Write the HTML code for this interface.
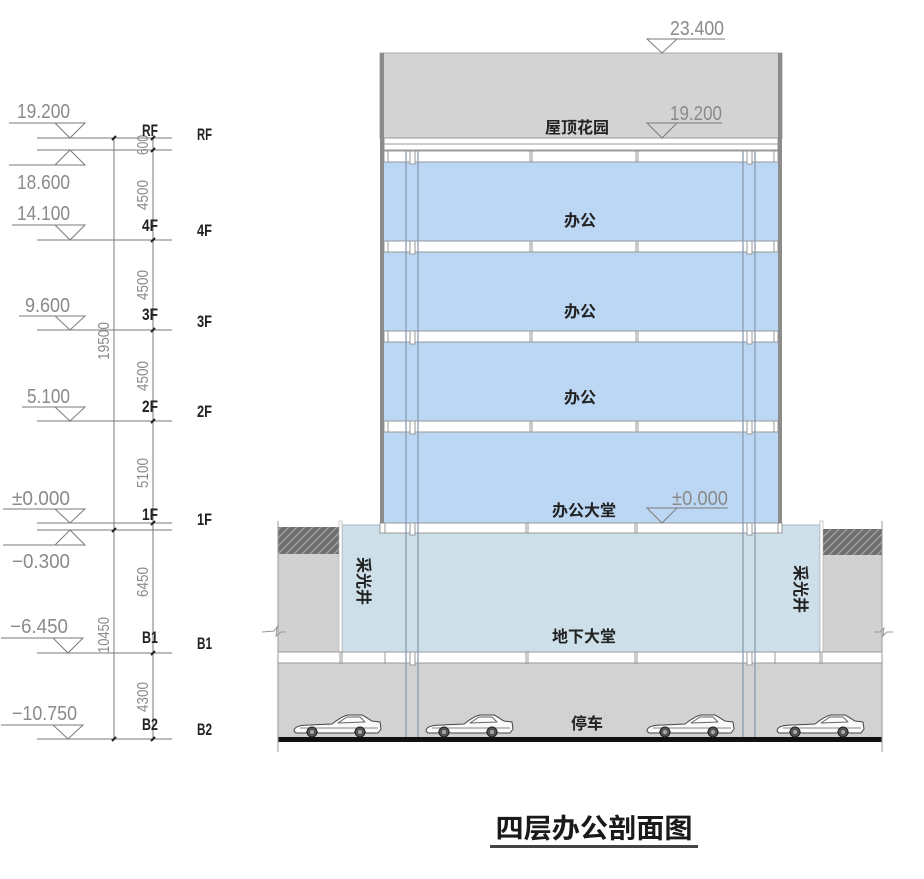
<!DOCTYPE html>
<html><head><meta charset="utf-8"><style>
html,body{margin:0;padding:0;background:#fff;}
svg{display:block;}
.el{font-family:"Liberation Sans",sans-serif;font-size:20px;fill:#8a8a8a;}
.dm{font-family:"Liberation Sans",sans-serif;font-size:16px;fill:#8a8a8a;}
.st{font-family:"Liberation Sans",sans-serif;font-size:17px;font-weight:bold;fill:#222;}
.cn{font-family:"Liberation Sans","Noto Sans CJK SC",sans-serif;font-size:16px;font-weight:bold;fill:#222;}
</style></head><body>
<svg width="924" height="879" viewBox="0 0 924 879" xmlns="http://www.w3.org/2000/svg">
<defs>
<pattern id="hatch" width="8" height="8" patternUnits="userSpaceOnUse">
<rect width="8" height="8" fill="#6f6f6f"/>
<path d="M0,8 L8,0 M-2,2 L2,-2 M6,10 L10,6" stroke="#a8a8a8" stroke-width="1.2"/>
</pattern>
</defs>

<!-- ============ LEFT ELEVATION CHART ============ -->
<g stroke="#7a7a7a" stroke-width="1" fill="none">
  <!-- floor lines -->
  <line x1="37" y1="138" x2="172" y2="138"/>
  <line x1="37" y1="150" x2="172" y2="150"/>
  <line x1="37" y1="240" x2="172" y2="240"/>
  <line x1="37" y1="330" x2="172" y2="330"/>
  <line x1="37" y1="421" x2="172" y2="421"/>
  <line x1="37" y1="523" x2="172" y2="523"/>
  <line x1="37" y1="530" x2="172" y2="530"/>
  <line x1="37" y1="653" x2="172" y2="653"/>
  <line x1="37" y1="739" x2="172" y2="739"/>
  <!-- dim lines -->
  <line x1="114" y1="138" x2="114" y2="739"/>
  <line x1="153" y1="138" x2="153" y2="739"/>
  <!-- marker lines -->
  <line x1="9" y1="123" x2="85" y2="123"/>
  <line x1="9" y1="165" x2="85" y2="165"/>
  <line x1="12" y1="225" x2="85" y2="225"/>
  <line x1="19" y1="316" x2="85" y2="316"/>
  <line x1="22" y1="407" x2="85" y2="407"/>
  <line x1="3" y1="509" x2="85" y2="509"/>
  <line x1="3" y1="545" x2="85" y2="545"/>
  <line x1="1" y1="638" x2="83" y2="638"/>
  <line x1="1" y1="725" x2="83" y2="725"/>
  <!-- triangles -->
  <path d="M55,123 L85,123 L70,138 Z"/>
  <path d="M70,150 L55,165 L85,165 Z"/>
  <path d="M55,225 L85,225 L70,240 Z"/>
  <path d="M55,316 L85,316 L70,330 Z"/>
  <path d="M55,407 L85,407 L70,421 Z"/>
  <path d="M55,509 L85,509 L70,523 Z"/>
  <path d="M70,530 L55,545 L85,545 Z"/>
  <path d="M53,638 L83,638 L68,653 Z"/>
  <path d="M53,725 L83,725 L68,739 Z"/>
</g>
<!-- ticks -->
<g stroke="#222" stroke-width="2">
  <line x1="112" y1="140" x2="116" y2="136"/>
  <line x1="151" y1="140" x2="155" y2="136"/>
  <line x1="151" y1="152" x2="155" y2="148"/>
  <line x1="151" y1="242" x2="155" y2="238"/>
  <line x1="151" y1="332" x2="155" y2="328"/>
  <line x1="151" y1="423" x2="155" y2="419"/>
  <line x1="151" y1="525" x2="155" y2="521"/>
  <line x1="112" y1="532" x2="116" y2="528"/>
  <line x1="151" y1="655" x2="155" y2="651"/>
  <line x1="112" y1="741" x2="116" y2="737"/>
  <line x1="151" y1="741" x2="155" y2="737"/>
</g>
<!-- elevation texts -->
<text class="el" x="17" y="118" textLength="53" lengthAdjust="spacingAndGlyphs">19.200</text>
<text class="el" x="17" y="189" textLength="53" lengthAdjust="spacingAndGlyphs">18.600</text>
<text class="el" x="17" y="220" textLength="53" lengthAdjust="spacingAndGlyphs">14.100</text>
<text class="el" x="25" y="312" textLength="45" lengthAdjust="spacingAndGlyphs">9.600</text>
<text class="el" x="27" y="403" textLength="43" lengthAdjust="spacingAndGlyphs">5.100</text>
<text class="el" x="12" y="505" textLength="58" lengthAdjust="spacingAndGlyphs">±0.000</text>
<text class="el" x="12" y="568" textLength="58" lengthAdjust="spacingAndGlyphs">−0.300</text>
<text class="el" x="10" y="633" textLength="58" lengthAdjust="spacingAndGlyphs">−6.450</text>
<text class="el" x="12" y="720" textLength="65" lengthAdjust="spacingAndGlyphs">−10.750</text>
<!-- dim texts -->
<text class="dm" transform="translate(148,145) rotate(-90)" text-anchor="middle" textLength="20" lengthAdjust="spacingAndGlyphs">600</text>
<text class="dm" transform="translate(148,195) rotate(-90)" text-anchor="middle" textLength="30" lengthAdjust="spacingAndGlyphs">4500</text>
<text class="dm" transform="translate(148,285) rotate(-90)" text-anchor="middle" textLength="30" lengthAdjust="spacingAndGlyphs">4500</text>
<text class="dm" transform="translate(148,376) rotate(-90)" text-anchor="middle" textLength="30" lengthAdjust="spacingAndGlyphs">4500</text>
<text class="dm" transform="translate(148,473) rotate(-90)" text-anchor="middle" textLength="30" lengthAdjust="spacingAndGlyphs">5100</text>
<text class="dm" transform="translate(148,582) rotate(-90)" text-anchor="middle" textLength="30" lengthAdjust="spacingAndGlyphs">6450</text>
<text class="dm" transform="translate(148,697) rotate(-90)" text-anchor="middle" textLength="30" lengthAdjust="spacingAndGlyphs">4300</text>
<text class="dm" transform="translate(109,341) rotate(-90)" text-anchor="middle" textLength="38" lengthAdjust="spacingAndGlyphs">19500</text>
<text class="dm" transform="translate(109,635) rotate(-90)" text-anchor="middle" textLength="36" lengthAdjust="spacingAndGlyphs">10450</text>
<!-- story labels -->
<g class="st">
<text x="142" y="136" textLength="16" lengthAdjust="spacingAndGlyphs">RF</text>
<text x="142" y="231" textLength="16" lengthAdjust="spacingAndGlyphs">4F</text>
<text x="142" y="320" textLength="16" lengthAdjust="spacingAndGlyphs">3F</text>
<text x="142" y="412" textLength="16" lengthAdjust="spacingAndGlyphs">2F</text>
<text x="142" y="520" textLength="16" lengthAdjust="spacingAndGlyphs">1F</text>
<text x="142" y="643" textLength="16" lengthAdjust="spacingAndGlyphs">B1</text>
<text x="142" y="730" textLength="16" lengthAdjust="spacingAndGlyphs">B2</text>
<text x="197" y="140" textLength="15" lengthAdjust="spacingAndGlyphs">RF</text>
<text x="197" y="236" textLength="15" lengthAdjust="spacingAndGlyphs">4F</text>
<text x="197" y="327" textLength="15" lengthAdjust="spacingAndGlyphs">3F</text>
<text x="197" y="417" textLength="15" lengthAdjust="spacingAndGlyphs">2F</text>
<text x="197" y="525" textLength="15" lengthAdjust="spacingAndGlyphs">1F</text>
<text x="197" y="649" textLength="15" lengthAdjust="spacingAndGlyphs">B1</text>
<text x="197" y="735" textLength="15" lengthAdjust="spacingAndGlyphs">B2</text>
</g>

<!-- ============ BUILDING ============ -->
<!-- basement earth & hatch -->
<rect x="278" y="527" width="62" height="126" fill="#d1d1d1"/>
<rect x="278" y="527" width="62" height="27" fill="url(#hatch)"/>
<rect x="822" y="529" width="60" height="124" fill="#d1d1d1"/>
<rect x="822" y="529" width="60" height="26" fill="url(#hatch)"/>
<!-- basement lobby -->
<rect x="342" y="525" width="478" height="128" fill="#cde0e9" stroke="#a9b6bd" stroke-width="1"/>
<!-- lightwell walls -->
<rect x="339" y="521" width="3" height="132" fill="#fff" stroke="#aaa" stroke-width="0.6"/>
<rect x="820" y="521" width="3" height="132" fill="#fff" stroke="#aaa" stroke-width="0.6"/>
<!-- parking -->
<rect x="278" y="663" width="604" height="74" fill="#d2d2d2"/>
<!-- B1 slab band -->
<rect x="278" y="652" width="604" height="11" fill="#fff" stroke="#999" stroke-width="1"/>
<g stroke="#999" stroke-width="1">
  <line x1="340" y1="652" x2="340" y2="664"/><line x1="342" y1="652" x2="342" y2="664"/>
  <line x1="385" y1="652" x2="385" y2="664"/>
  <line x1="526" y1="652" x2="526" y2="664"/><line x1="528" y1="652" x2="528" y2="664"/>
  <line x1="635" y1="652" x2="635" y2="664"/><line x1="637" y1="652" x2="637" y2="664"/>
  <line x1="775" y1="652" x2="775" y2="664"/>
  <line x1="820" y1="652" x2="820" y2="664"/><line x1="822" y1="652" x2="822" y2="664"/>
</g>
<rect x="410" y="652" width="5" height="13" fill="#fff" stroke="#999" stroke-width="1"/>
<rect x="747" y="652" width="5" height="13" fill="#fff" stroke="#999" stroke-width="1"/>

<!-- roof parapet -->
<rect x="380" y="53" width="402" height="85" fill="#d3d3d3" stroke="#aaa" stroke-width="1"/>
<!-- roof slab -->
<rect x="384" y="138" width="394" height="12" fill="#fff" stroke="#999" stroke-width="1"/>
<line x1="384" y1="144" x2="778" y2="144" stroke="#999" stroke-width="1"/>

<!-- blue office floors -->
<rect x="384" y="162" width="394" height="79" fill="#bcd7f4"/>
<rect x="384" y="252" width="394" height="79" fill="#bcd7f4"/>
<rect x="384" y="342" width="394" height="79" fill="#bcd7f4"/>
<rect x="384" y="432" width="394" height="91" fill="#bcd7f4"/>

<!-- beam bands -->
<g id="bands">
<g transform="translate(0,151)">
 <rect x="384" y="0" width="394" height="11" fill="#fff" stroke="#999"/>
 <g stroke="#999"><line x1="388" y1="0" x2="388" y2="11"/><line x1="530" y1="0" x2="530" y2="11"/><line x1="532" y1="0" x2="532" y2="11"/><line x1="636" y1="0" x2="636" y2="11"/><line x1="638" y1="0" x2="638" y2="11"/><line x1="774" y1="0" x2="774" y2="11"/></g>
 <rect x="410" y="0" width="5" height="13" fill="#fff" stroke="#999"/><rect x="747" y="0" width="5" height="13" fill="#fff" stroke="#999"/>
</g>
<g transform="translate(0,241)">
 <rect x="384" y="0" width="394" height="11" fill="#fff" stroke="#999"/>
 <g stroke="#999"><line x1="388" y1="0" x2="388" y2="11"/><line x1="530" y1="0" x2="530" y2="11"/><line x1="532" y1="0" x2="532" y2="11"/><line x1="636" y1="0" x2="636" y2="11"/><line x1="638" y1="0" x2="638" y2="11"/><line x1="774" y1="0" x2="774" y2="11"/></g>
 <rect x="410" y="0" width="5" height="13" fill="#fff" stroke="#999"/><rect x="747" y="0" width="5" height="13" fill="#fff" stroke="#999"/>
</g>
<g transform="translate(0,331)">
 <rect x="384" y="0" width="394" height="11" fill="#fff" stroke="#999"/>
 <g stroke="#999"><line x1="388" y1="0" x2="388" y2="11"/><line x1="530" y1="0" x2="530" y2="11"/><line x1="532" y1="0" x2="532" y2="11"/><line x1="636" y1="0" x2="636" y2="11"/><line x1="638" y1="0" x2="638" y2="11"/><line x1="774" y1="0" x2="774" y2="11"/></g>
 <rect x="410" y="0" width="5" height="13" fill="#fff" stroke="#999"/><rect x="747" y="0" width="5" height="13" fill="#fff" stroke="#999"/>
</g>
<g transform="translate(0,421)">
 <rect x="384" y="0" width="394" height="11" fill="#fff" stroke="#999"/>
 <g stroke="#999"><line x1="388" y1="0" x2="388" y2="11"/><line x1="530" y1="0" x2="530" y2="11"/><line x1="532" y1="0" x2="532" y2="11"/><line x1="636" y1="0" x2="636" y2="11"/><line x1="638" y1="0" x2="638" y2="11"/><line x1="774" y1="0" x2="774" y2="11"/></g>
 <rect x="410" y="0" width="5" height="13" fill="#fff" stroke="#999"/><rect x="747" y="0" width="5" height="13" fill="#fff" stroke="#999"/>
</g>
<g transform="translate(0,523)">
 <rect x="380" y="0" width="402" height="10" fill="#fff" stroke="#999"/>
 <g stroke="#999"><line x1="385" y1="0" x2="385" y2="10"/><line x1="526" y1="0" x2="526" y2="10"/><line x1="528" y1="0" x2="528" y2="10"/><line x1="635" y1="0" x2="635" y2="10"/><line x1="637" y1="0" x2="637" y2="10"/><line x1="778" y1="0" x2="778" y2="10"/></g>
 <rect x="410" y="0" width="5" height="12" fill="#fff" stroke="#999"/><rect x="747" y="0" width="5" height="12" fill="#fff" stroke="#999"/>
</g>
</g>

<!-- tower walls -->
<rect x="380" y="53" width="4" height="470" fill="#8c8c8c"/>
<rect x="778" y="53" width="4" height="470" fill="#8c8c8c"/>

<!-- columns -->
<g stroke="#8a9cb0" stroke-width="1.3">
  <line x1="406" y1="151" x2="406" y2="737"/>
  <line x1="418" y1="151" x2="418" y2="737"/>
  <line x1="743" y1="151" x2="743" y2="737"/>
  <line x1="755" y1="151" x2="755" y2="737"/>
</g>

<!-- ground -->
<rect x="278" y="737" width="604" height="5" fill="#111"/>
<g stroke="#999" stroke-width="1" fill="none">
  <line x1="278" y1="521" x2="278" y2="752"/>
  <line x1="882" y1="521" x2="882" y2="752"/>
  <path d="M262,632 L274,631 L277,627 L276,636 L281,632 L286,632"/>
  <path d="M874,632 L880,632 L884,628 L883,636 L887,632 L893,632"/>
</g>

<!-- cars -->
<g id="cars" stroke-linejoin="round">
<g transform="translate(292,737)">
 <path d="M2,-6 C2,-10 8,-12 18,-12 L40,-13 C44,-16 50,-21 56,-22 L70,-22 C74,-20 78,-17 80,-16 L88,-15 L89,-8 L86,-4 L74,-4 A7,7 0 0 0 62,-4 L26,-4 A7,7 0 0 0 14,-4 L4,-4 Z" fill="#fafafa" stroke="#444" stroke-width="1"/>
 <path d="M46,-14 L55,-20 L68,-20 L73,-15 Z" fill="none" stroke="#666"/>
 <line x1="8" y1="-9" x2="86" y2="-9" stroke="#888"/>
 <circle cx="20" cy="-5" r="5" fill="#555" stroke="#222"/><circle cx="20" cy="-5" r="2" fill="#aaa"/>
 <circle cx="68" cy="-5" r="5" fill="#555" stroke="#222"/><circle cx="68" cy="-5" r="2" fill="#aaa"/>
</g>
<g transform="translate(424,737)">
 <path d="M2,-6 C2,-10 8,-12 18,-12 L40,-13 C44,-16 50,-21 56,-22 L70,-22 C74,-20 78,-17 80,-16 L88,-15 L89,-8 L86,-4 L74,-4 A7,7 0 0 0 62,-4 L26,-4 A7,7 0 0 0 14,-4 L4,-4 Z" fill="#fafafa" stroke="#444" stroke-width="1"/>
 <path d="M46,-14 L55,-20 L68,-20 L73,-15 Z" fill="none" stroke="#666"/>
 <line x1="8" y1="-9" x2="86" y2="-9" stroke="#888"/>
 <circle cx="20" cy="-5" r="5" fill="#555" stroke="#222"/><circle cx="20" cy="-5" r="2" fill="#aaa"/>
 <circle cx="68" cy="-5" r="5" fill="#555" stroke="#222"/><circle cx="68" cy="-5" r="2" fill="#aaa"/>
</g>
<g transform="translate(645,737)">
 <path d="M2,-6 C2,-10 8,-12 18,-12 L40,-13 C44,-16 50,-21 56,-22 L70,-22 C74,-20 78,-17 80,-16 L88,-15 L89,-8 L86,-4 L74,-4 A7,7 0 0 0 62,-4 L26,-4 A7,7 0 0 0 14,-4 L4,-4 Z" fill="#fafafa" stroke="#444" stroke-width="1"/>
 <path d="M46,-14 L55,-20 L68,-20 L73,-15 Z" fill="none" stroke="#666"/>
 <line x1="8" y1="-9" x2="86" y2="-9" stroke="#888"/>
 <circle cx="20" cy="-5" r="5" fill="#555" stroke="#222"/><circle cx="20" cy="-5" r="2" fill="#aaa"/>
 <circle cx="68" cy="-5" r="5" fill="#555" stroke="#222"/><circle cx="68" cy="-5" r="2" fill="#aaa"/>
</g>
<g transform="translate(775,737)">
 <path d="M2,-6 C2,-10 8,-12 18,-12 L40,-13 C44,-16 50,-21 56,-22 L70,-22 C74,-20 78,-17 80,-16 L88,-15 L89,-8 L86,-4 L74,-4 A7,7 0 0 0 62,-4 L26,-4 A7,7 0 0 0 14,-4 L4,-4 Z" fill="#fafafa" stroke="#444" stroke-width="1"/>
 <path d="M46,-14 L55,-20 L68,-20 L73,-15 Z" fill="none" stroke="#666"/>
 <line x1="8" y1="-9" x2="86" y2="-9" stroke="#888"/>
 <circle cx="20" cy="-5" r="5" fill="#555" stroke="#222"/><circle cx="20" cy="-5" r="2" fill="#aaa"/>
 <circle cx="68" cy="-5" r="5" fill="#555" stroke="#222"/><circle cx="68" cy="-5" r="2" fill="#aaa"/>
</g>
</g>

<!-- building elevation markers -->
<g stroke="#7a7a7a" stroke-width="1" fill="none">
  <line x1="647" y1="39" x2="725" y2="39"/>
  <path d="M647,39 L677,39 L662,53 Z"/>
  <line x1="647" y1="123" x2="722" y2="123"/>
  <path d="M647,123 L677,123 L662,138 Z"/>
  <line x1="647" y1="508" x2="728" y2="508"/>
  <path d="M647,508 L677,508 L662,523 Z"/>
</g>
<text class="el" x="670" y="35" textLength="54" lengthAdjust="spacingAndGlyphs">23.400</text>
<text class="el" x="670" y="120" textLength="52" lengthAdjust="spacingAndGlyphs">19.200</text>
<text class="el" x="672" y="505" textLength="56" lengthAdjust="spacingAndGlyphs">±0.000</text>

<!-- building labels -->
<g class="cn" text-anchor="middle">
<text x="577" y="133">屋顶花园</text>
<text x="580" y="226">办公</text>
<text x="580" y="317">办公</text>
<text x="580" y="403">办公</text>
<text x="584" y="516">办公大堂</text>
<text x="584" y="642">地下大堂</text>
<text x="587" y="729">停车</text>
<text transform="translate(358,581) rotate(90)">采光井</text>
<text transform="translate(795,589) rotate(90)">采光井</text>
</g>

<!-- title -->
<text x="594" y="838" text-anchor="middle" font-family="Liberation Sans, Noto Sans CJK SC, sans-serif" font-size="27" font-weight="bold" fill="#1a1a1a" textLength="197" lengthAdjust="spacingAndGlyphs">四层办公剖面图</text>
<rect x="490" y="845" width="208" height="3" fill="#444"/>
</svg>
</body></html>
